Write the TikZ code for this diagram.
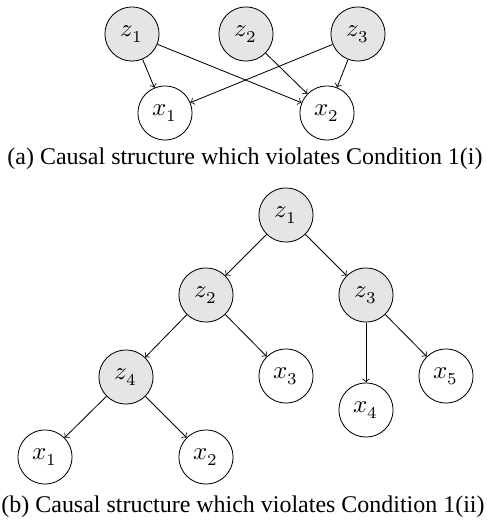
\documentclass[tikz,border=0pt]{standalone}
\usepackage{fontspec}
\setmainfont{Liberation Serif}
\usepackage{unicode-math}
\setmathfont{Latin Modern Math}
\usetikzlibrary{arrows}
\tikzset{
  latent/.style={circle,draw,fill=gray!20,minimum size=26pt,inner sep=0pt,font=\large},
  observed/.style={circle,draw,fill=white,minimum size=26pt,inner sep=0pt,font=\large},
  caption/.style={font=\fontsize{11.5}{14}\selectfont,inner sep=0pt},
  edge/.style={->}
}
\begin{document}
\begin{tikzpicture}[x=0.48pt,y=-0.48pt]
\useasboundingbox (0,0) rectangle (486,525);
% (a)
\node [latent] (az1) at (132,34) {$z_1$};
\node [latent] (az2) at (246,34) {$z_2$};
\node [latent] (az3) at (358,34) {$z_3$};
\node [observed] (ax1) at (165,113) {$x_1$};
\node [observed] (ax2) at (327,113) {$x_2$};
\draw [edge] (az1) -- (ax1);
\draw [edge] (az1) -- (ax2);
\draw [edge] (az2) -- (ax2);
\draw [edge] (az3) -- (ax1);
\draw [edge] (az3) -- (ax2);
\node [caption] (capa) at (245,159) {(a) Causal structure which violates Condition 1(i)};
% (b)
\node [latent] (bz1) at (286,215) {$z_1$};
\node [latent] (bz2) at (206,295) {$z_2$};
\node [latent] (bz3) at (366,295) {$z_3$};
\node [latent] (bz4) at (126,377) {$z_4$};
\node [observed] (bx3) at (286,376) {$x_3$};
\node [observed] (bx4) at (366,410) {$x_4$};
\node [observed] (bx5) at (446,376) {$x_5$};
\node [observed] (bx1) at (45,457) {$x_1$};
\node [observed] (bx2) at (206,457) {$x_2$};
\draw [edge] (bz1) -- (bz2);
\draw [edge] (bz1) -- (bz3);
\draw [edge] (bz2) -- (bz4);
\draw [edge] (bz2) -- (bx3);
\draw [edge] (bz3) -- (bx4);
\draw [edge] (bz3) -- (bx5);
\draw [edge] (bz4) -- (bx1);
\draw [edge] (bz4) -- (bx2);
\node [caption] (capb) at (243,507) {(b) Causal structure which violates Condition 1(ii)};
\end{tikzpicture}
\end{document}
